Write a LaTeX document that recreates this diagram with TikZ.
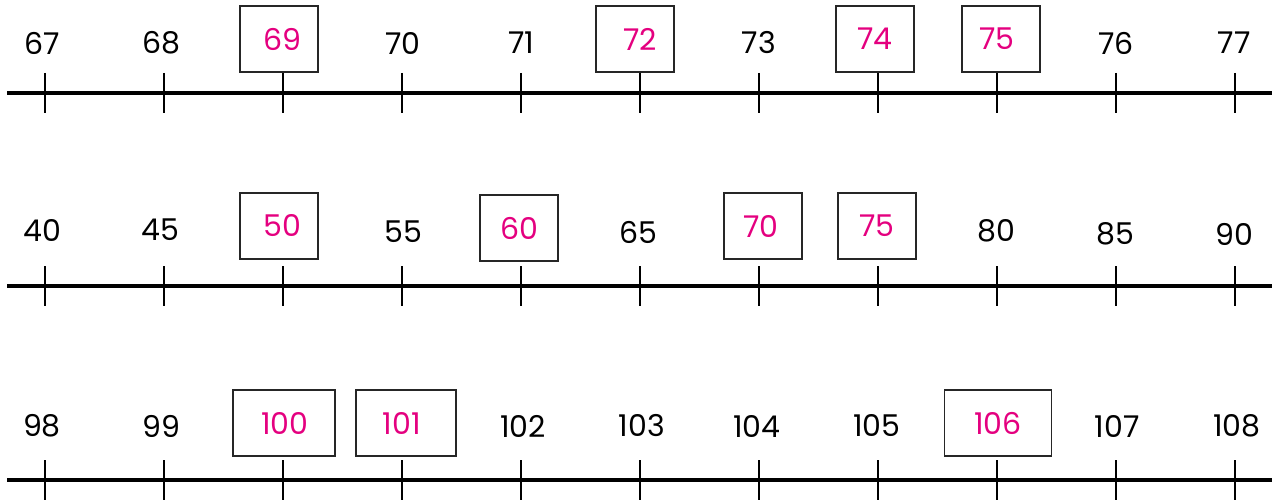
\documentclass[tikz,border=0pt]{standalone}
\usepackage{fontspec}
\setmainfont{Poppins}
\definecolor{mag}{HTML}{E4007F}
\begin{document}
\begin{tikzpicture}[x=1pt,y=-1pt,
  axisline/.style={line width=3.8pt},
  tickline/.style={line width=2.2pt},
  lab/.style={font=\fontsize{30}{31}\selectfont, inner sep=0pt, anchor=center},
  boxlab/.style={lab, text=mag, draw=black!85, line width=1.3pt, minimum height=66pt}]
\useasboundingbox (0,0) rectangle (1278,500);
% axes with ticks
\foreach \r/\y in {a/93, b/286, c/480}{
  \coordinate (\r L) at (7,\y);
  \coordinate (\r R) at (1272,\y);
  \draw[axisline] (\r L) -- (\r R);
  \foreach \i in {0,...,10}{
    \coordinate (\r t\i u) at (45+119*\i,\y-20);
    \coordinate (\r t\i d) at (45+119*\i,\y+20);
    \draw[tickline] (\r t\i u) -- (\r t\i d);
  }
}
% plain labels
\foreach \t/\x/\y in {67/42/43, 68/161/43, 70/403/43, 71/521/43, 73/759/43, 76/1116/43, 77/1234/43}{
  \node[lab] (a\t) at (\x,\y) {\t};
}
\foreach \t/\x/\y in {40/42/230, 45/160/230, 55/403/232, 65/638/232, 80/996/231, 85/1115/234, 90/1234/234}{
  \node[lab] (b\t) at (\x,\y) {\t};
}
\foreach \t/\x/\y in {98/42/426, 99/161/426, 102/523/426, 103/642/426, 104/757/426, 105/877/426, 107/1117/426, 108/1237/426}{
  \node[lab] (c\t) at (\x,\y) {\t};
}
% boxed labels (\d = horizontal offset of the text inside its box)
\foreach \t/\x/\y/\w/\d in {69/279/39/78/3, 72/635/39/78/5, 74/875/39/78/0, 75/1001/39/78/-4}{
  \node[boxlab, minimum width=\w pt] (a\t) at (\x,\y) {\hspace*{\d pt}\t\hspace*{-\d pt}};
}
\foreach \t/\x/\y/\w/\d in {50/279/226/78/3, 60/519/228/78/0, 70/763/226/78/-2, 75/877/226/78/0}{
  \node[boxlab, minimum width=\w pt] (b\t) at (\x,\y) {\hspace*{\d pt}\t\hspace*{-\d pt}};
}
\foreach \t/\x/\y/\w/\d in {100/284/423/102/1, 101/406/423/100/-4, 106/998/423/107/0}{
  \node[boxlab, minimum width=\w pt] (c\t) at (\x,\y) {\hspace*{\d pt}\t\hspace*{-\d pt}};
}
\end{tikzpicture}
\end{document}
